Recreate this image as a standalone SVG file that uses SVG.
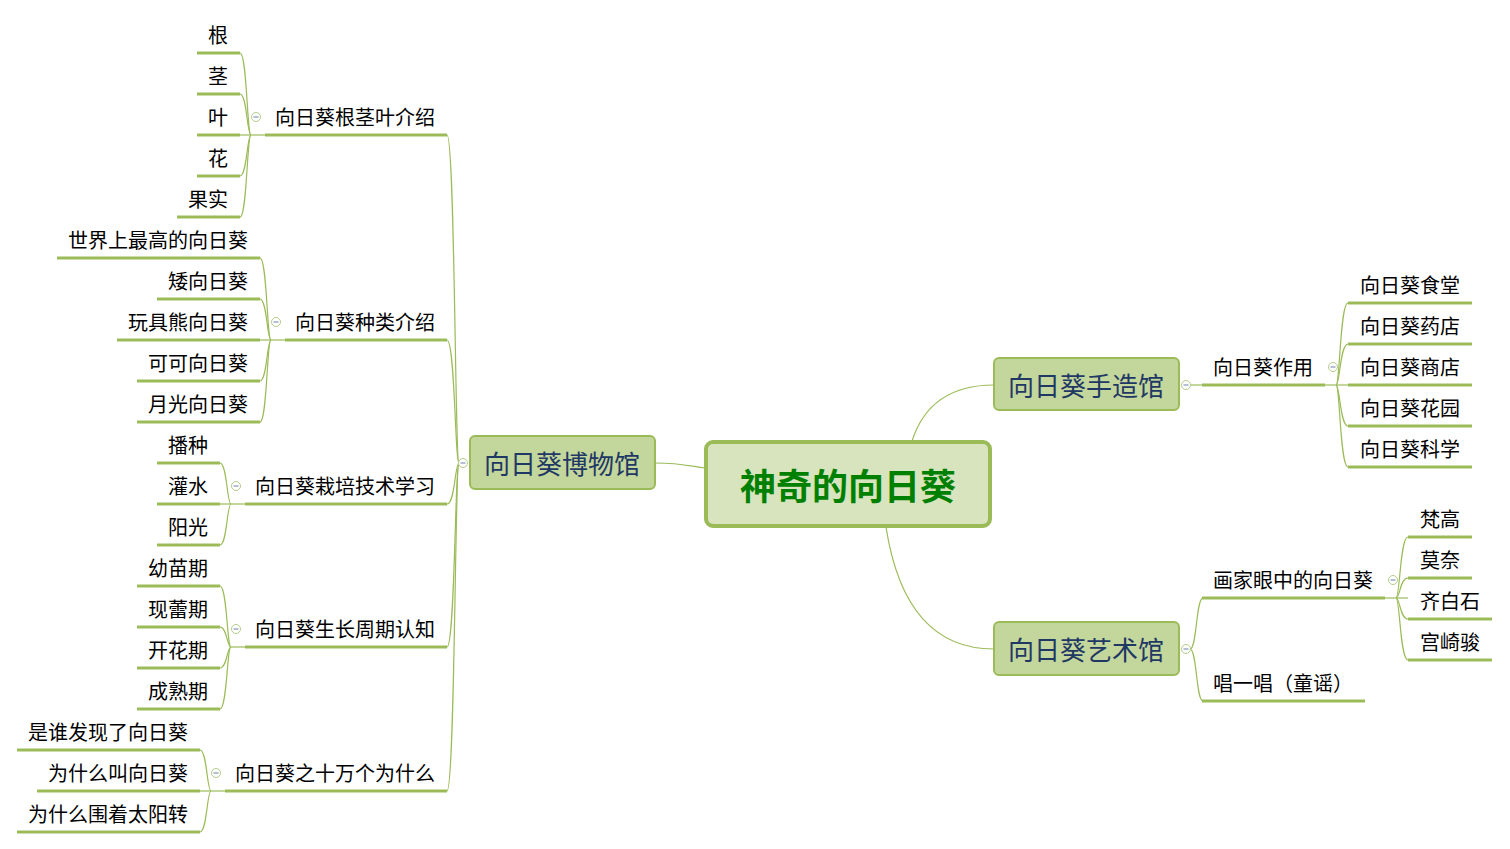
<svg xmlns="http://www.w3.org/2000/svg" width="1510" height="849" viewBox="0 0 1510 849">
<style>
text{font-family:"Microsoft YaHei","Noto Sans CJK SC","Noto Sans",sans-serif;}
.t{font-size:20px;fill:#000;}
.r{text-anchor:end;}
.ul{stroke:#9bbb59;stroke-width:3;fill:none;}
.c{stroke:#9bbb59;stroke-width:1.2;fill:none;}
.main rect{fill:#c3d69b;stroke:#9bbb59;stroke-width:2;}
.main text{font-size:26px;fill:#1f3864;text-anchor:middle;}
.fold circle{fill:#fff;stroke:#b5cc8a;stroke-width:1;}
.fold line{stroke:#6f7fa8;stroke-width:1;}
</style>
<defs>
<g id="minus" class="fold"><circle r="4.5"/><line x1="-2.5" y1="0" x2="2.5" y2="0"/></g>
</defs>
<rect width="1510" height="849" fill="#fff"/>

<g id="connectors">
<!-- center to main -->
<path class="c" d="M655 463 C680 463 690 466 705 468"/>
<path class="c" d="M912 441 Q930 385 994 385"/>
<path class="c" d="M886 527 Q905 649 994 649"/>
<!-- museum spine -->
<path class="c" d="M447 135 C455 135 455 463 459 463"/>
<path class="c" d="M447 340 C455 340 455 463 459 463"/>
<path class="c" d="M447 504 C455 504 455 463 459 463"/>
<path class="c" d="M447 647 C455 647 455 463 459 463"/>
<path class="c" d="M447 791 C455 791 455 463 459 463"/>
<!-- 根茎叶 -->
<path class="c" d="M240 135 L265 135"/>
<path class="c" d="M240 53 C247 53 247 135 251 135"/>
<path class="c" d="M240 94 C247 94 247 135 251 135"/>
<path class="c" d="M240 176 C247 176 247 135 251 135"/>
<path class="c" d="M240 217 C247 217 247 135 251 135"/>
<!-- 种类 -->
<path class="c" d="M260 340 L285 340"/>
<path class="c" d="M260 258 C267 258 267 340 271 340"/>
<path class="c" d="M260 299 C267 299 267 340 271 340"/>
<path class="c" d="M260 381 C267 381 267 340 271 340"/>
<path class="c" d="M260 422 C267 422 267 340 271 340"/>
<!-- 栽培 -->
<path class="c" d="M220 504 L245 504"/>
<path class="c" d="M220 463 C227 463 227 504 231 504"/>
<path class="c" d="M220 545 C227 545 227 504 231 504"/>
<!-- 生长 -->
<path class="c" d="M230 647 L245 647"/>
<path class="c" d="M220 586 C227 586 227 647 231 647"/>
<path class="c" d="M220 627 C227 627 227 647 231 647"/>
<path class="c" d="M220 668 C227 668 227 647 231 647"/>
<path class="c" d="M220 709 C227 709 227 647 231 647"/>
<!-- 十万 -->
<path class="c" d="M200 791 L225 791"/>
<path class="c" d="M200 750 C207 750 207 791 211 791"/>
<path class="c" d="M200 832 C207 832 207 791 211 791"/>
<!-- 手造馆 -->
<path class="c" d="M1190 385 L1202 385"/>
<path class="c" d="M1325 385 L1348 385"/>
<path class="c" d="M1336 385 C1340 385 1340 303 1348 303"/>
<path class="c" d="M1336 385 C1340 385 1340 344 1348 344"/>
<path class="c" d="M1336 385 C1340 385 1340 426 1348 426"/>
<path class="c" d="M1336 385 C1340 385 1340 467 1348 467"/>
<!-- 艺术馆 -->
<path class="c" d="M1190 649 C1197 649 1196 598 1203 598"/>
<path class="c" d="M1190 649 C1197 649 1196 701 1203 701"/>
<path class="c" d="M1385 598 L1408 598"/>
<path class="c" d="M1396 598 C1400 598 1400 537 1408 537"/>
<path class="c" d="M1396 598 C1400 598 1400 578 1408 578"/>
<path class="c" d="M1396 598 C1400 598 1400 619 1408 619"/>
<path class="c" d="M1396 598 C1400 598 1400 660 1408 660"/>
</g>

<g id="center">
<rect x="706" y="442" width="284" height="84" rx="7" fill="#d7e4bd" stroke="#9bbb59" stroke-width="4"/>
<text x="848" y="500" font-size="36" font-weight="bold" fill="#008000" text-anchor="middle">神奇的向日葵</text>
</g>

<g id="museum" class="main">
<rect x="470" y="436" width="185" height="53" rx="5"/>
<text x="562" y="474">向日葵博物馆</text>
<use href="#minus" x="463" y="463"/>
</g>
<g id="handmade" class="main">
<rect x="994" y="358" width="185" height="52" rx="5"/>
<text x="1086" y="396">向日葵手造馆</text>
<use href="#minus" x="1186" y="385"/>
</g>
<g id="art" class="main">
<rect x="994" y="622" width="185" height="53" rx="5"/>
<text x="1086" y="660">向日葵艺术馆</text>
<use href="#minus" x="1186" y="649"/>
</g>

<!-- museum subtopics -->
<g id="s-rootstem">
<line class="ul" x1="265" y1="135" x2="447" y2="135"/>
<text class="t r" x="435" y="125">向日葵根茎叶介绍</text>
<use href="#minus" x="256" y="117"/>
</g>
<g id="l-gen"><line class="ul" x1="197" y1="53" x2="240" y2="53"/><text class="t r" x="228" y="43">根</text></g>
<g id="l-jing"><line class="ul" x1="197" y1="94" x2="240" y2="94"/><text class="t r" x="228" y="84">茎</text></g>
<g id="l-ye"><line class="ul" x1="197" y1="135" x2="240" y2="135"/><text class="t r" x="228" y="125">叶</text></g>
<g id="l-hua"><line class="ul" x1="197" y1="176" x2="240" y2="176"/><text class="t r" x="228" y="166">花</text></g>
<g id="l-guoshi"><line class="ul" x1="177" y1="217" x2="240" y2="217"/><text class="t r" x="228" y="207">果实</text></g>

<g id="s-kinds">
<line class="ul" x1="285" y1="340" x2="447" y2="340"/>
<text class="t r" x="435" y="330">向日葵种类介绍</text>
<use href="#minus" x="276" y="322"/>
</g>
<g id="l-tallest"><line class="ul" x1="57" y1="258" x2="260" y2="258"/><text class="t r" x="248" y="248">世界上最高的向日葵</text></g>
<g id="l-dwarf"><line class="ul" x1="157" y1="299" x2="260" y2="299"/><text class="t r" x="248" y="289">矮向日葵</text></g>
<g id="l-teddy"><line class="ul" x1="117" y1="340" x2="260" y2="340"/><text class="t r" x="248" y="330">玩具熊向日葵</text></g>
<g id="l-coco"><line class="ul" x1="137" y1="381" x2="260" y2="381"/><text class="t r" x="248" y="371">可可向日葵</text></g>
<g id="l-moon"><line class="ul" x1="137" y1="422" x2="260" y2="422"/><text class="t r" x="248" y="412">月光向日葵</text></g>

<g id="s-cultivate">
<line class="ul" x1="245" y1="504" x2="447" y2="504"/>
<text class="t r" x="435" y="494">向日葵栽培技术学习</text>
<use href="#minus" x="236" y="486"/>
</g>
<g id="l-sow"><line class="ul" x1="157" y1="463" x2="220" y2="463"/><text class="t r" x="208" y="453">播种</text></g>
<g id="l-water"><line class="ul" x1="157" y1="504" x2="220" y2="504"/><text class="t r" x="208" y="494">灌水</text></g>
<g id="l-sun"><line class="ul" x1="157" y1="545" x2="220" y2="545"/><text class="t r" x="208" y="535">阳光</text></g>

<g id="s-growth">
<line class="ul" x1="245" y1="647" x2="447" y2="647"/>
<text class="t r" x="435" y="637">向日葵生长周期认知</text>
<use href="#minus" x="236" y="629"/>
</g>
<g id="l-seedling"><line class="ul" x1="137" y1="586" x2="220" y2="586"/><text class="t r" x="208" y="576">幼苗期</text></g>
<g id="l-bud"><line class="ul" x1="137" y1="627" x2="220" y2="627"/><text class="t r" x="208" y="617">现蕾期</text></g>
<g id="l-bloom"><line class="ul" x1="137" y1="668" x2="220" y2="668"/><text class="t r" x="208" y="658">开花期</text></g>
<g id="l-mature"><line class="ul" x1="137" y1="709" x2="220" y2="709"/><text class="t r" x="208" y="699">成熟期</text></g>

<g id="s-why">
<line class="ul" x1="225" y1="791" x2="447" y2="791"/>
<text class="t r" x="435" y="781">向日葵之十万个为什么</text>
<use href="#minus" x="216" y="773"/>
</g>
<g id="l-who"><line class="ul" x1="17" y1="750" x2="200" y2="750"/><text class="t r" x="188" y="740">是谁发现了向日葵</text></g>
<g id="l-name"><line class="ul" x1="37" y1="791" x2="200" y2="791"/><text class="t r" x="188" y="781">为什么叫向日葵</text></g>
<g id="l-turn"><line class="ul" x1="17" y1="832" x2="200" y2="832"/><text class="t r" x="188" y="822">为什么围着太阳转</text></g>

<!-- handmade -->
<g id="s-use">
<line class="ul" x1="1202" y1="385" x2="1325" y2="385"/>
<text class="t" x="1213" y="375">向日葵作用</text>
<use href="#minus" x="1333" y="367"/>
</g>
<g id="l-canteen"><line class="ul" x1="1348" y1="303" x2="1472" y2="303"/><text class="t" x="1360" y="293">向日葵食堂</text></g>
<g id="l-pharmacy"><line class="ul" x1="1348" y1="344" x2="1472" y2="344"/><text class="t" x="1360" y="334">向日葵药店</text></g>
<g id="l-shop"><line class="ul" x1="1348" y1="385" x2="1472" y2="385"/><text class="t" x="1360" y="375">向日葵商店</text></g>
<g id="l-garden"><line class="ul" x1="1348" y1="426" x2="1472" y2="426"/><text class="t" x="1360" y="416">向日葵花园</text></g>
<g id="l-science"><line class="ul" x1="1348" y1="467" x2="1472" y2="467"/><text class="t" x="1360" y="457">向日葵科学</text></g>

<!-- art -->
<g id="s-painters">
<line class="ul" x1="1202" y1="598" x2="1385" y2="598"/>
<text class="t" x="1213" y="588">画家眼中的向日葵</text>
<use href="#minus" x="1393" y="580"/>
</g>
<g id="l-vangogh"><line class="ul" x1="1408" y1="537" x2="1472" y2="537"/><text class="t" x="1420" y="527">梵高</text></g>
<g id="l-monet"><line class="ul" x1="1408" y1="578" x2="1472" y2="578"/><text class="t" x="1420" y="568">莫奈</text></g>
<g id="l-qi"><line class="ul" x1="1408" y1="619" x2="1492" y2="619"/><text class="t" x="1420" y="609">齐白石</text></g>
<g id="l-miyazaki"><line class="ul" x1="1408" y1="660" x2="1492" y2="660"/><text class="t" x="1420" y="650">宫崎骏</text></g>
<g id="s-song">
<line class="ul" x1="1202" y1="701" x2="1365" y2="701"/>
<text class="t" x="1213" y="691">唱一唱（童谣）</text>
</g>
</svg>
